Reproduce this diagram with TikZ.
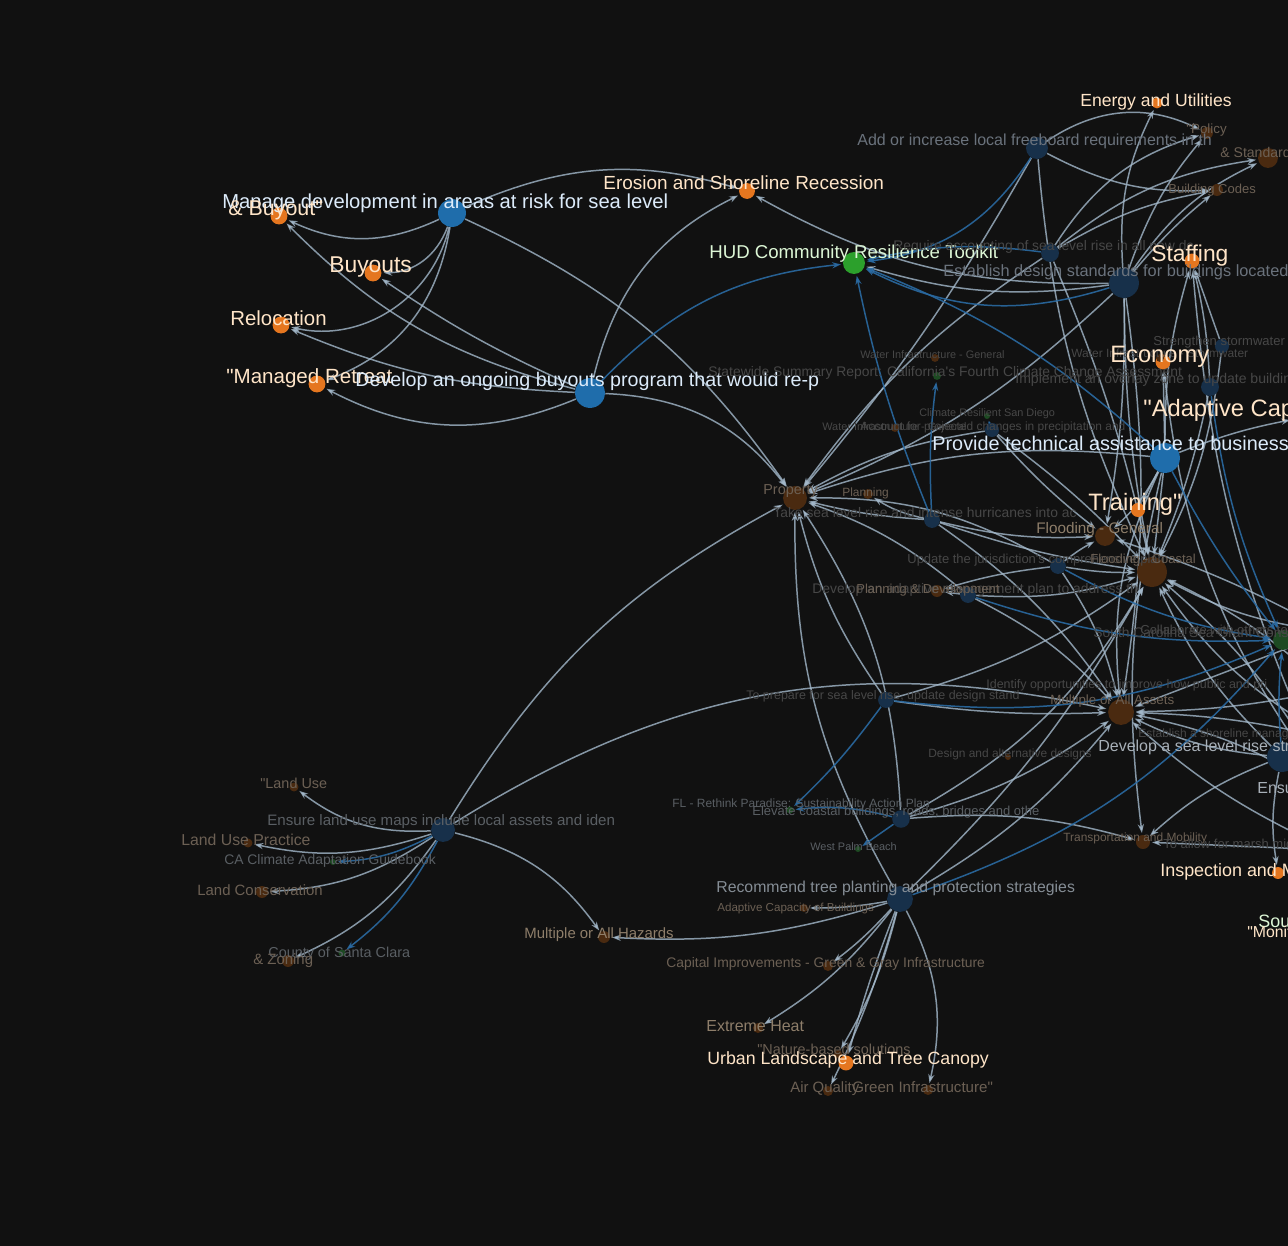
\documentclass[tikz,border=0pt]{standalone}
\usepackage{fontspec}
\setmainfont{Liberation Sans}[Ligatures=TeXOff]
\usetikzlibrary{arrows.meta}
\definecolor{canvas}{HTML}{111111}
\definecolor{tagorange}{HTML}{E5761F}
\definecolor{actblue}{HTML}{1F6DAB}
\definecolor{actdim}{HTML}{17304A}
\definecolor{srcgreen}{HTML}{2CA02C}
\definecolor{srcdim}{HTML}{1D4A22}
\definecolor{issuebrown}{HTML}{4A2A10}
\definecolor{linkgrey}{HTML}{A3B8CA}
\definecolor{linkblue}{HTML}{2A6AA2}
\definecolor{creamtxt}{HTML}{FFE5C8}
\definecolor{bluetxt}{HTML}{DCEBFA}
\definecolor{greentxt}{HTML}{DDF7D6}
\definecolor{dimtxt}{HTML}{474747}
\definecolor{dimtxtb}{HTML}{5A5F64}
\definecolor{hubtxt}{HTML}{6A727C}
\definecolor{hubtxtm}{HTML}{858D95}
\definecolor{hubtxtb}{HTML}{A8B0B8}
\definecolor{browntxt}{HTML}{6C6054}
\definecolor{browntxtb}{HTML}{8E7E6A}
\pgfdeclarelayer{bg}
\pgfdeclarelayer{links}
\pgfsetlayers{bg,links,main}
\tikzset{
  dot/.style={circle, inner sep=0pt, minimum size=#1},
  tagnode/.style={dot=#1, fill=tagorange},
  actnode/.style={dot=#1, fill=actblue},
  dimact/.style={dot=#1, fill=actdim},
  srcnode/.style={dot=#1, fill=srcgreen},
  dimsrc/.style={dot=#1, fill=srcdim},
  issuenode/.style={dot=#1, fill=issuebrown},
  lbl/.style={inner sep=0pt, anchor=mid west, yshift=-1.8pt, font=\fontsize{#1}{#1}\selectfont},
  link/.style={draw=linkgrey, draw opacity=0.8, line width=0.85pt,
    -{Stealth[length=5pt, width=3.5pt]}, shorten >=1pt},
  srclink/.style={link, draw=linkblue, draw opacity=0.9},
}

\begin{document}
\begin{tikzpicture}[x=0.02cm, y=0.02cm]
\useasboundingbox (0,0) rectangle (1288,-1246);
\begin{pgfonlayer}{bg}
  \fill[canvas] (0,0) rectangle (1288,-1246);
\end{pgfonlayer}

% highlighted actions, tags and source
\foreach \name/\x/\y/\d in {md/452/213/15.9pt, db/590/393/17pt, ptab/1165/458/17pt}
  \node[actnode=\d] (\name) at (\x,-\y) {};
\foreach \name/\x/\y/\d in {buyout/279/216/9.6pt, buyouts/373/273/9.6pt, reloc/281/325/9.6pt,
    mretreat/317/384/9.6pt, erosion/747/191/9pt, energy/1157/103/6.2pt, staffing/1192/261/8.5pt,
    economy/1163/362/8.5pt, training/1138/510/8pt, inspect/1278/873/6.8pt, urban/846/1063/8.5pt,
    acap/1300/418/9pt, mon/1300/938/8pt}
  \node[tagnode=\d] (\name) at (\x,-\y) {};
\foreach \name/\x/\y/\d in {hud/854/263/12.5pt, sou/1320/928/9pt}
  \node[srcnode=\d] (\name) at (\x,-\y) {};

% dimmed actions
\foreach \name/\x/\y/\d in {add/1037/148/12.5pt, req/1050/253/10.2pt, esd/1124/283/17pt,
    ssw/1222/346/8pt, iao/1210/387/10.2pt, apc/992/430/8pt, tsl/932/520/9pt, ujc/1058/566/9pt,
    dam/968/595/9pt, tp/886/700/9pt, eco/901/819/10pt, rtp/900/899/14.7pt, elu/443/830/13.6pt,
    dsl/1282/757/17pt, col/1330/632/10pt, iop/1330/690/10pt, eab/1330/738/10pt,
    ens/1335/797/12pt, afm/1330/850/10pt}
  \node[dimact=\d] (\name) at (\x,-\y) {};

% dimmed issues and sources
\foreach \name/\x/\y/\d in {policy/1207/133/6.8pt, standards/1268/158/11.3pt, bcodes/1217/190/6.8pt,
    wig/935/358/4.5pt, wis/1160/358/4.5pt, wigb/895/428/4.5pt, property/795/498/13.6pt,
    planning/868/494/5.7pt, floodg/1105/536/11.3pt, floodc/1152/572/17pt, planz/937/591/6.8pt,
    maa/1121/712/14.7pt, dad/1008/757/3.4pt, transp/1143/842/8pt, adcap/804/908/4.5pt,
    capimp/828/966/5.7pt, mah/604/937/6.8pt, heat/758/1028/5.7pt, nbs/838/1054/4.5pt,
    airq/828/1091/5.7pt, greeninf/928/1090/5.7pt, landuse/294/787/5.1pt, lup/248/843/5.1pt,
    lcons/262/892/6.8pt, zoning/288/961/6.8pt}
  \node[issuenode=\d] (\name) at (\x,-\y) {};
\foreach \name/\x/\y/\d in {statewide/937/376/4.5pt, crsd/987/416/3.4pt, scsg/1283/640/11.3pt,
    flr/790/810/4pt, wpb/858/849/3.4pt, santaclara/342/953/4pt, cacag/333/862/3.4pt}
  \node[dimsrc=\d] (\name) at (\x,-\y) {};

% labels
\foreach \name/\x/\y/\s/\c/\t in {
    md/222/201/11.5pt/bluetxt/Manage development in areas at risk for sea level,
    buyout/228/208/12.2pt/creamtxt/{\& Buyout"},
    buyouts/329/265/13pt/creamtxt/Buyouts,
    reloc/230/318/11.6pt/creamtxt/Relocation,
    mretreat/226/376/11.7pt/creamtxt/"Managed Retreat,
    db/355/379/11.2pt/bluetxt/Develop an ongoing buyouts program that would re-p,
    erosion/603/182/10.8pt/creamtxt/Erosion and Shoreline Recession,
    hud/709/251/10.6pt/greentxt/HUD Community Resilience Toolkit,
    energy/1080/99/10pt/creamtxt/Energy and Utilities,
    add/857/138/9.1pt/hubtxt/Add or increase local freeboard requirements in th,
    policy/1186/126/7.6pt/browntxt/"Policy,
    standards/1220/150/8pt/browntxt/{\& Standards},
    bcodes/1168/186/7.4pt/browntxt/Building Codes,
    req/893/243/7.9pt/dimtxt/Require accounting of sea level rise in all new de,
    staffing/1151/254/13pt/creamtxt/Staffing,
    esd/943/269/9.3pt/hubtxt/Establish design standards for buildings located in,
    ssw/1153/338/7.4pt/dimtxt/Strengthen stormwater,
    wig/860/351/6.2pt/dimtxt/Water Infrastructure - General,
    wis/1071/350/6.8pt/dimtxt/Water Infrastructure - Stormwater,
    economy/1110/355/13.5pt/creamtxt/Economy,
    statewide/708/369/7.9pt/dimtxt/Statewide Summary Report: California's Fourth Climate Change Assessment,
    iao/1015/376/8pt/dimtxt/Implement an overlay zone to update building standa,
    acap/1143/409/13.5pt/creamtxt/"Adaptive Capacity Building,
    crsd/919/409/6.2pt/dimtxt/Climate Resilient San Diego,
    wigb/822/423/6.2pt/dimtxt/Water Infrastructure - General,
    apc/860/423/6.8pt/dimtxt/Account for projected changes in precipitation and,
    ptab/932/443/11.3pt/bluetxt/Provide technical assistance to businesses,
    property/763/487/8.2pt/browntxt/Property,
    planning/842/489/6.8pt/browntxt/Planning,
    training/1088/503/13.5pt/creamtxt/Training",
    tsl/773/510/7.9pt/dimtxt/Take sea level rise and intense hurricanes into ac,
    floodg/1036/526/8.7pt/browntxtb/Flooding - General,
    ujc/907/556/7.4pt/dimtxt/Update the jurisdiction's comprehensive plan,
    floodc/1090/556/7.4pt/browntxt/Flooding - Coastal,
    dam/812/586/7.9pt/dimtxt/Develop an adaptive management plan to address th,
    planz/856/586/7.4pt/browntxt/{Planning \& Development},
    scsg/1093/630/7.9pt/dimtxt/South Carolina Sea Grant Consortium,
    col/1140/627/7.4pt/dimtxt/Collaborate with others to,
    tp/746/692/7.1pt/dimtxt/{To prepare for sea level rise, update design stand},
    iop/986/681/7.1pt/dimtxt/Identify opportunities to improve how public and pri,
    maa/1050/697/7.6pt/browntxt/Multiple or All Assets,
    eab/1138/730/6.8pt/dimtxt/Establish a shoreline management plan,
    dsl/1098/744/9.1pt/hubtxtb/Develop a sea level rise strategy to guide future,
    dad/928/750/6.8pt/dimtxt/Design and alternative designs,
    ens/1257/786/9.1pt/hubtxtb/Ensure,
    flr/672/800/6.8pt/dimtxtb/FL - Rethink Paradise: Sustainability Action Plan,
    eco/752/808/7.4pt/dimtxtb/{Elevate coastal buildings, roads, bridges and othe},
    transp/1063/834/6.8pt/browntxt/Transportation and Mobility,
    afm/1163/841/7.4pt/dimtxt/To allow for marsh migration,
    wpb/810/843/6.2pt/dimtxtb/West Palm Beach,
    inspect/1160/869/10.2pt/creamtxt/Inspection and Maintenance,
    rtp/716/885/9pt/hubtxtm/Recommend tree planting and protection strategies,
    adcap/717/904/6.6pt/browntxt/Adaptive Capacity of Buildings,
    sou/1258/920/10.2pt/greentxt/Southeast Florida,
    mon/1247/930/9pt/creamtxt/"Monitoring,
    mah/524/931/8.5pt/browntxtb/Multiple or All Hazards,
    capimp/666/960/7.9pt/browntxt/{Capital Improvements - Green \& Gray Infrastructure},
    heat/706/1024/9.1pt/browntxtb/Extreme Heat,
    nbs/757/1047/8.2pt/browntxt/"Nature-based solutions,
    urban/707/1057/10.1pt/creamtxt/Urban Landscape and Tree Canopy,
    airq/790/1085/8.5pt/browntxt/Air Quality,
    greeninf/852/1085/8.6pt/browntxt/Green Infrastructure",
    landuse/260/781/8.2pt/browntxt/"Land Use,
    elu/267/818/8.6pt/dimtxtb/Ensure land use maps include local assets and iden,
    lup/181/838/9pt/browntxt/Land Use Practice,
    cacag/224/857/7.9pt/dimtxtb/CA Climate Adaptation Guidebook,
    lcons/197/888/8.5pt/browntxt/Land Conservation,
    santaclara/268/950/8.2pt/dimtxtb/County of Santa Clara,
    zoning/253/957/8.5pt/browntxt/{\& Zoning}}
  \node[lbl=\s, text=\c] (\name-l) at (\x,-\y) {\t};

% connectors
\begin{pgfonlayer}{links}
\foreach \a/\b/\k in {md/buyout/25, md/buyouts/35, md/reloc/45, md/mretreat/30, md/property/15,
    md/erosion/20, db/buyout/15, db/buyouts/5, db/reloc/10, db/mretreat/25, db/erosion/25,
    db/property/25, esd/erosion/15, esd/hud/12, esd/energy/15, esd/policy/10, esd/bcodes/5,
    esd/standards/15, esd/property/10, esd/floodg/5, esd/floodc/-5, esd/maa/8,
    add/policy/30, add/property/5, add/floodc/-10, add/bcodes/-15,
    req/policy/20, req/standards/15, req/bcodes/10, req/floodc/5, req/property/-10,
    ptab/staffing/8, ptab/economy/0, ptab/training/0, ptab/property/-12, ptab/floodg/10,
    ptab/floodc/0, ptab/maa/-15, ptab/transp/-10, ptab/acap/5, ssw/staffing/0, ssw/floodc/10,
    iao/floodc/5, tsl/property/5, tsl/planning/10, tsl/floodg/-8, tsl/floodc/-5, tsl/maa/10,
    apc/property/-10, apc/floodg/-5, apc/floodc/5, ujc/floodc/-5, ujc/floodg/5,
    ujc/property/-15, ujc/planz/-5, ujc/maa/10, dam/planz/0, dam/floodc/-10, dam/maa/10,
    dam/property/-10, tp/property/10, tp/maa/-5, tp/floodc/-10, eco/property/-15,
    eco/transp/10, eco/maa/-10, eco/floodc/-15, rtp/property/15, rtp/mah/10, rtp/adcap/5,
    rtp/capimp/5, rtp/heat/10, rtp/nbs/8, rtp/urban/-3, rtp/greeninf/20, rtp/airq/5,
    rtp/maa/-10, rtp/floodc/-8, elu/landuse/20, elu/lup/15, elu/lcons/15, elu/zoning/15,
    elu/mah/20, elu/property/15, elu/maa/22, dsl/maa/10, dsl/transp/-10, dsl/floodc/10,
    dsl/inspect/-10, iop/maa/5, eab/maa/-5, ens/maa/-10, ens/floodc/-10, afm/transp/0,
    col/floodc/10, col/maa/0, ens/mon/5, ens/staffing/10, iop/floodc/-8, col/floodg/-5,
    eab/floodc/12, afm/maa/8, ens/economy/15, iao/staffing/-5}
  \draw[link] (\a) to[bend left=\k] (\b);
\foreach \a/\b/\k in {db/hud/20, esd/hud/22, ptab/hud/-10, req/hud/-10, add/hud/25, tsl/hud/5,
    apc/crsd/0, tsl/statewide/5, ujc/scsg/-10, dam/scsg/-10, tp/flr/5, eco/flr/-10,
    eco/wpb/0, rtp/scsg/-15, tp/scsg/-15, elu/cacag/12, elu/santaclara/12, dsl/scsg/5,
    ptab/scsg/-5, ens/sou/5, iao/scsg/-8}
  \draw[srclink] (\a) to[bend left=\k] (\b);
\end{pgfonlayer}
\end{tikzpicture}
\end{document}
